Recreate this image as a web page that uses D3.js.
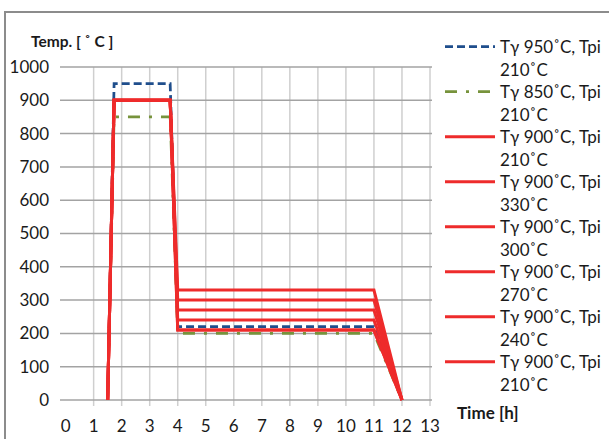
<!DOCTYPE html>
<html><head><meta charset="utf-8">
<script src="https://cdn.jsdelivr.net/npm/d3@7"></script>
<style>body{margin:0;background:#fff}svg{display:block}</style>
</head><body>
<svg id="c" width="609" height="439"></svg>
<script>
// Data
const xTicks = [0,1,2,3,4,5,6,7,8,9,10,11,12,13];
const yTicks = [0,100,200,300,400,500,600,700,800,900,1000];
const seriesNames = [
  ["Tγ 950˚C, Tpi","210˚C"],
  ["Tγ 850˚C, Tpi","210˚C"],
  ["Tγ 900˚C, Tpi","210˚C"],
  ["Tγ 900˚C, Tpi","330˚C"],
  ["Tγ 900˚C, Tpi","300˚C"],
  ["Tγ 900˚C, Tpi","270˚C"],
  ["Tγ 900˚C, Tpi","240˚C"],
  ["Tγ 900˚C, Tpi","210˚C"]
];
const times = [1.5, 1.73, 3.73, 4.0, 11.0, 12.0];
const s950 = [0, 950, 950, 220, 220, 0];
const s850 = [0, 850, 850, 200, 200, 0];
const s900_210a = [0, 900, 900, 210, 210, 0];
const s900_330 = [0, 900, 900, 330, 330, 0];
const s900_300 = [0, 900, 900, 300, 300, 0];
const s900_270 = [0, 900, 900, 270, 270, 0];
const s900_240 = [0, 900, 900, 240, 240, 0];
const s900_210b = [0, 900, 900, 210, 210, 0];
const seriesValues = [s950, s850, s900_210a, s900_330, s900_300, s900_270, s900_240, s900_210b];

const styles = [
  {color:"#1f4e8c", dash:"8,4", w:2.75},
  {color:"#77933c", dash:"12,9,3,9", w:2.75},
  {color:"#ee2b2b", dash:null, w:3},
  {color:"#ee2b2b", dash:null, w:3},
  {color:"#ee2b2b", dash:null, w:3},
  {color:"#ee2b2b", dash:null, w:3},
  {color:"#ee2b2b", dash:null, w:3},
  {color:"#ee2b2b", dash:null, w:3}
];

const svg = d3.select("#c");
const font = "Lato, 'Open Sans', sans-serif";

// border
svg.append("rect").attr("x",5).attr("y",12).attr("width",620).attr("height",440)
  .attr("fill","none").attr("stroke","#8c8c8c").attr("stroke-width",2);

const x = d3.scaleLinear().domain([-0.2, 13]).range([60, 430]);
const y = d3.scaleLinear().domain([0, 1000]).range([400, 67]);

// vertical gridlines
svg.append("g").selectAll("line").data(xTicks.filter(d=>d>0)).join("line")
  .attr("x1",d=>x(d)).attr("x2",d=>x(d)).attr("y1",y(1000)).attr("y2",y(0)+6)
  .attr("stroke","#cfcfcf").attr("stroke-width",1.5);
// horizontal gridlines
svg.append("g").selectAll("line").data(yTicks).join("line")
  .attr("x1",60).attr("x2",432).attr("y1",d=>y(d)).attr("y2",d=>y(d))
  .attr("stroke","#a3a3a3").attr("stroke-width",1.5);

// y tick labels
svg.append("g").selectAll("text").data(yTicks).join("text")
  .attr("x",49).attr("y",d=>y(d)).attr("dy","0.35em").attr("text-anchor","end")
  .attr("font-family",font).attr("font-size",17).attr("fill","#1a1a1a").text(d=>d);
// x tick labels
svg.append("g").selectAll("text").data(xTicks).join("text")
  .attr("x",d=>x(d)).attr("y",426).attr("dy","0.35em").attr("text-anchor","middle")
  .attr("font-family",font).attr("font-size",17).attr("fill","#1a1a1a").text(d=>d);

// axis titles
svg.append("text").attr("x",31).attr("y",42).attr("dy","0.35em")
  .attr("font-family",font).attr("font-weight","bold").attr("font-size",15.5).attr("fill","#1a1a1a")
  .text("Temp. [ ˚ C ]");
svg.append("text").attr("x",457).attr("y",413).attr("dy","0.35em")
  .attr("font-family",font).attr("font-weight","bold").attr("font-size",17).attr("fill","#1a1a1a")
  .text("Time [h]");

// lines
const line = d3.line().x(d=>x(d[0])).y(d=>y(d[1]));
seriesValues.forEach((vals,i)=>{
  const pts = times.map((t,j)=>[t, vals[j]]);
  svg.append("path").attr("d", line(pts)).attr("fill","none")
    .attr("stroke", styles[i].color).attr("stroke-width", styles[i].w)
    .attr("stroke-dasharray", styles[i].dash).attr("stroke-linejoin","miter");
});

// legend
const lg = svg.append("g");
seriesNames.forEach((nm,i)=>{
  const cy = 46.7 + i*45;
  lg.append("line").attr("x1",445).attr("x2",495).attr("y1",cy).attr("y2",cy)
    .attr("stroke",styles[i].color).attr("stroke-width",styles[i].w)
    .attr("stroke-dasharray",styles[i].dash);
  lg.append("text").attr("x",500).attr("y",cy).attr("dy","0.35em")
    .attr("font-family",font).attr("font-size",17).attr("fill","#1a1a1a").text(nm[0]);
  lg.append("text").attr("x",500).attr("y",cy+23).attr("dy","0.35em")
    .attr("font-family",font).attr("font-size",17).attr("fill","#1a1a1a").text(nm[1]);
});
</script>
</body></html>
